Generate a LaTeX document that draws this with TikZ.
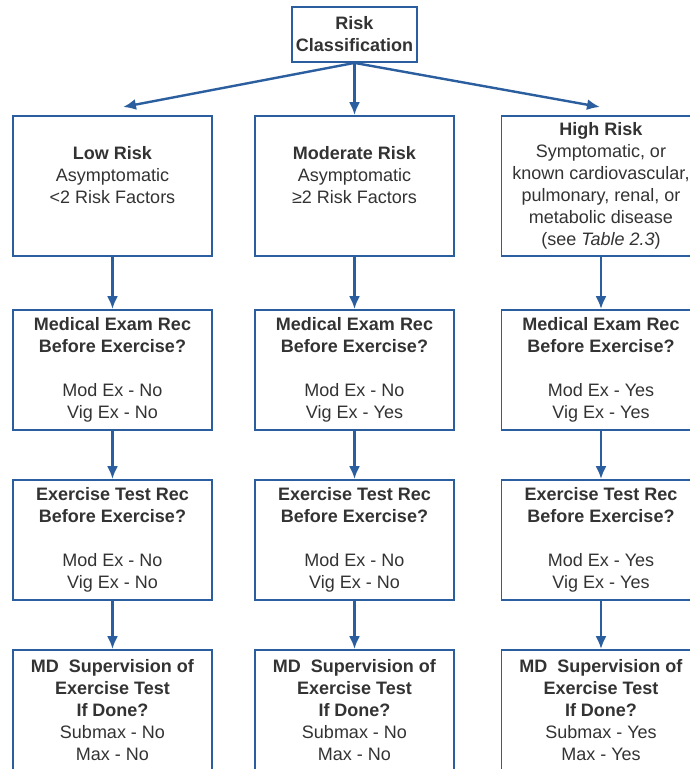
\documentclass[tikz,border=0pt]{standalone}
\usepackage{fontspec}
\setmainfont{Liberation Sans}
\usetikzlibrary{arrows.meta}
\definecolor{boxblue}{HTML}{2B5E9E}
\definecolor{txt}{HTML}{333333}

\begin{document}
\begin{tikzpicture}[x=1pt,y=-1pt,
  box/.style={draw=boxblue,line width=1.8pt,fill=white,minimum width=199pt,minimum height=120pt,
    align=center,text=txt,font=\fontsize{18}{22}\selectfont,inner sep=2pt},
  tallbox/.style={box,minimum height=140pt},
  topbox/.style={box,minimum width=125pt,minimum height=55pt},
  arr/.style={draw=boxblue,line width=2.4pt,-{Latex[length=13pt,width=11pt]}}]
\useasboundingbox (0,0) rectangle (690,769);
\clip (0,0) rectangle (690,769);

\node[topbox] (risk) at (354.5,34.5) {\textbf{Risk}\\\textbf{Classification}};

\node[tallbox] (low) at (112.5,186) {\textbf{Low Risk}\\Asymptomatic\\<2 Risk Factors\\\mbox{}};
\node[tallbox] (mod) at (354.5,186) {\textbf{Moderate Risk}\\Asymptomatic\\≥2 Risk Factors\\\mbox{}};
\node[tallbox] (high) at (601,186) {\textbf{High Risk}\\Symptomatic, or\\known cardiovascular,\\pulmonary, renal, or\\metabolic disease\\(see \textit{Table 2.3})};

\node[box] (lowmed) at (112.5,370) {\textbf{Medical Exam Rec}\\\textbf{Before Exercise?}\\[22pt]Mod Ex - No\\Vig Ex - No};
\node[box] (modmed) at (354.5,370) {\textbf{Medical Exam Rec}\\\textbf{Before Exercise?}\\[22pt]Mod Ex - No\\Vig Ex - Yes};
\node[box] (highmed) at (601,370) {\textbf{Medical Exam Rec}\\\textbf{Before Exercise?}\\[22pt]Mod Ex - Yes\\Vig Ex - Yes};

\node[box] (lowtest) at (112.5,540) {\textbf{Exercise Test Rec}\\\textbf{Before Exercise?}\\[22pt]Mod Ex - No\\Vig Ex - No};
\node[box] (modtest) at (354.5,540) {\textbf{Exercise Test Rec}\\\textbf{Before Exercise?}\\[22pt]Mod Ex - No\\Vig Ex - No};
\node[box] (hightest) at (601,540) {\textbf{Exercise Test Rec}\\\textbf{Before Exercise?}\\[22pt]Mod Ex - Yes\\Vig Ex - Yes};

\node[box] (lowsup) at (112.5,710) {\textbf{MD\ \ Supervision of}\\\textbf{Exercise Test}\\\textbf{If Done?}\\Submax - No\\Max - No};
\node[box] (modsup) at (354.5,710) {\textbf{MD\ \ Supervision of}\\\textbf{Exercise Test}\\\textbf{If Done?}\\Submax - No\\Max - No};
\node[box] (highsup) at (601,710) {\textbf{MD\ \ Supervision of}\\\textbf{Exercise Test}\\\textbf{If Done?}\\Submax - Yes\\Max - Yes};

\coordinate (lowtip) at (123,107);
\coordinate (hightip) at (600,107);

\draw[arr] (risk.south) -- (lowtip);
\draw[arr] (risk.south) -- (mod.north);
\draw[arr] (risk.south) -- (hightip);

\draw[arr] (low.south) -- (lowmed.north);
\draw[arr] (mod.south) -- (modmed.north);
\draw[arr] (high.south) -- (highmed.north);

\draw[arr] (lowmed.south) -- (lowtest.north);
\draw[arr] (modmed.south) -- (modtest.north);
\draw[arr] (highmed.south) -- (hightest.north);

\draw[arr] (lowtest.south) -- (lowsup.north);
\draw[arr] (modtest.south) -- (modsup.north);
\draw[arr] (hightest.south) -- (highsup.north);

\end{tikzpicture}
\end{document}
